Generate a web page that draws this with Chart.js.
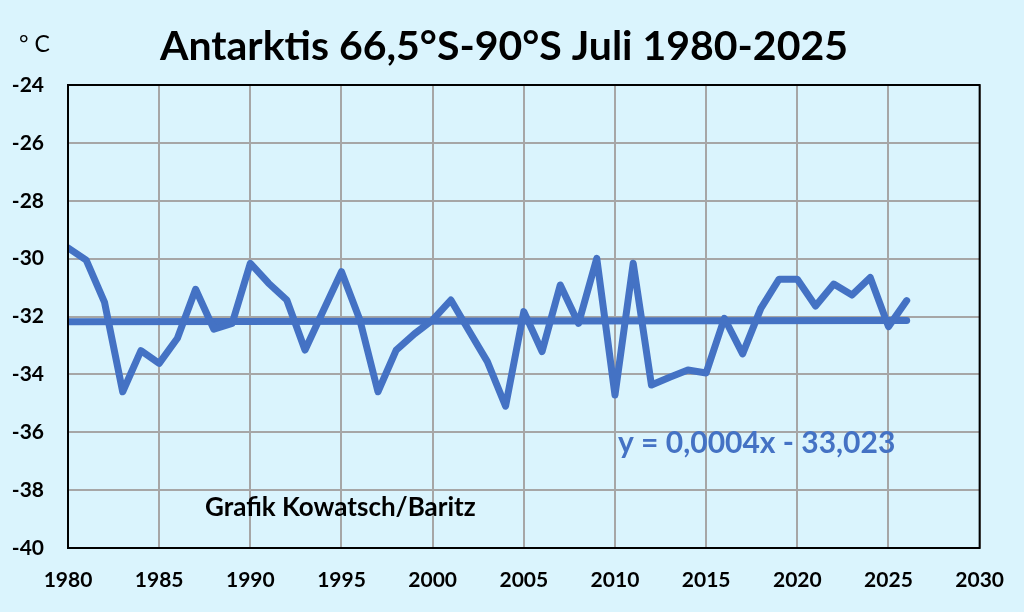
<!DOCTYPE html>
<html>
<head>
<meta charset="utf-8">
<script src="https://cdn.jsdelivr.net/npm/chart.js@4"></script>
<style>
  html, body { margin: 0; padding: 0; background: #DAF4FD; }
  #wrap { width: 1024px; height: 612px; }
</style>
</head>
<body>
<div id="wrap"><canvas id="chart" width="1024" height="612"></canvas></div>
<script>
// July temperatures, Antarctica 66.5S-90S
const years = [1980, 1981, 1982, 1983, 1984, 1985, 1986, 1987, 1988, 1989,
               1990, 1991, 1992, 1993, 1994, 1995, 1996, 1997, 1998, 1999,
               2000, 2001, 2002, 2003, 2004, 2005, 2006, 2007, 2008, 2009,
               2010, 2011, 2012, 2013, 2014, 2015, 2016, 2017, 2018, 2019,
               2020, 2021, 2022, 2023, 2024, 2025, 2026];
const temps = [-29.63, -30.05, -31.5, -34.6, -33.18, -33.62, -32.75, -31.06, -32.44, -32.24,
               -30.16, -30.85, -31.43, -33.16, -31.8, -30.45, -32.1, -34.6, -33.16, -32.6,
               -32.12, -31.43, -32.5, -33.56, -35.1, -31.83, -33.21, -30.91, -32.24, -29.99,
               -34.71, -30.16, -34.37, -34.1, -33.85, -33.95, -32.06, -33.29, -31.72, -30.71,
               -30.71, -31.64, -30.88, -31.26, -30.65, -32.35, -31.45];
const trendYears = [1980, 2026];
const trendTemps = [-32.18, -32.14];

const xTicks = [1980, 1985, 1990, 1995, 2000, 2005, 2010, 2015, 2020, 2025, 2030];
const yTicks = [-24, -26, -28, -30, -32, -34, -36, -38, -40];

const titleText = 'Antarktis 66,5°S-90°S Juli 1980-2025';
const unitText = '° C';
const equationText = 'y = 0,0004x - 33,023';
const creditText = 'Grafik Kowatsch/Baritz';

const bg = '#DAF4FD';
const lineBlue = '#4472C4';
const fontFam = 'Lato, "Open Sans", sans-serif';

const backgroundPlugin = {
    id: 'bgFill',
    beforeDraw(chart) {
        const c = chart.ctx;
        c.save();
        c.fillStyle = bg;
        c.fillRect(0, 0, chart.width, chart.height);
        c.restore();
    }
};

const framePlugin = {
    id: 'frameAndText',
    afterDatasetsDraw(chart) {
        const c = chart.ctx;
        const a = chart.chartArea;
        c.save();
        c.strokeStyle = '#000';
        c.lineWidth = 2;
        c.strokeRect(a.left, a.top, a.right - a.left, a.bottom - a.top);

        c.fillStyle = '#000';
        c.font = 'bold 41px ' + fontFam;
        c.textAlign = 'center';
        c.textBaseline = 'alphabetic';
        c.fillText(titleText, 504, 60);

        c.font = '23px ' + fontFam;
        c.textAlign = 'left';
        c.fillText(unitText, 19, 52);

        c.font = 'bold 26px ' + fontFam;
        c.fillText(creditText, 205, 516);

        c.fillStyle = lineBlue;
        c.font = 'bold 30px ' + fontFam;
        c.fillText(equationText, 618, 453);
        c.restore();
    }
};

const ctx = document.getElementById('chart').getContext('2d');
const chart = new Chart(ctx, {
    type: 'line',
    data: {
        datasets: [{
            label: 'Juli',
            data: years.map((y, i) => ({ x: y, y: temps[i] })),
            borderColor: lineBlue,
            borderWidth: 7,
            pointRadius: 0,
            tension: 0,
            borderJoinStyle: 'round',
            borderCapStyle: 'round'
        }, {
            label: 'Trend',
            data: trendYears.map((y, i) => ({ x: y, y: trendTemps[i] })),
            borderColor: lineBlue,
            borderWidth: 7,
            pointRadius: 0,
            borderCapStyle: 'round'
        }]
    },
    options: {
        responsive: false,
        animation: false,
        devicePixelRatio: 1,
        layout: { padding: { top: 85, right: 42, left: 0, bottom: 0 } },
        plugins: {
            legend: { display: false },
            title: { display: false },
            tooltip: { enabled: false }
        },
        scales: {
            x: {
                type: 'linear',
                min: 1980,
                max: 2030,
                afterBuildTicks(axis) { axis.ticks = xTicks.map(v => ({ value: v })); },
                afterFit(axis) { axis.height = 64; },
                grid: { color: '#A6A6A6', lineWidth: 2, drawTicks: false },
                border: { display: false },
                ticks: {
                    padding: 20,
                    color: '#000',
                    font: { family: fontFam, size: 21, weight: 'bold' },
                    callback: v => String(v)
                }
            },
            y: {
                min: -40,
                max: -24,
                afterBuildTicks(axis) { axis.ticks = yTicks.map(v => ({ value: v })); },
                afterFit(axis) { axis.width = 68; },
                grid: { color: '#A6A6A6', lineWidth: 2, drawTicks: false },
                border: { display: false },
                ticks: {
                    padding: 24,
                    color: '#000',
                    font: { family: fontFam, size: 21, weight: 'bold' },
                    callback: v => String(v)
                }
            }
        }
    },
    plugins: [backgroundPlugin, framePlugin]
});
</script>
</body>
</html>
